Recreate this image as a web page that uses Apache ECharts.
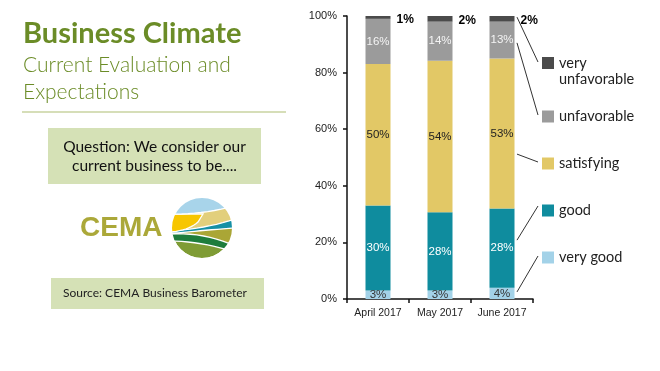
<!DOCTYPE html>
<html>
<head>
<meta charset="utf-8">
<script src="https://cdn.jsdelivr.net/npm/echarts@6/dist/echarts.min.js"></script>
<style>html,body{margin:0;padding:0;background:#fff}#c{width:660px;height:371px}</style>
</head>
<body>
<div id="c"></div>
<script>
// ---- data ----
const categories = ['April 2017', 'May 2017', 'June 2017'];
const seriesNames = ['very good', 'good', 'satisfying', 'unfavorable', 'very unfavorable'];
const veryGood = [3, 3, 4];
const good = [30, 28, 28];
const satisfying = [50, 54, 53];
const unfavorable = [16, 14, 13];
const veryUnfavorable = [1, 2, 2];
const yTicks = [0, 20, 40, 60, 80, 100];
const leaderAnchors = [99.6, 90.5, 51.2, 20.8, 2.5]; // % on June bar, top to bottom
// ---- styles ----
const colors = ['#a3d2e8', '#0f8c9e', '#e2c866', '#9b9b9b', '#4b4b4b'];
const labelColors = ['#333', '#fff', '#222', '#f4f4f4', '#000'];
const raw = [veryGood, good, satisfying, unfavorable, veryUnfavorable];
const totals = categories.map((c, i) => raw.reduce((s, a) => s + a[i], 0));

const chart = echarts.init(document.getElementById('c'), null, {renderer: 'canvas'});
const series = raw.map((arr, k) => ({
  name: seriesNames[k],
  type: 'bar',
  stack: 'all',
  barWidth: 25,
  itemStyle: {color: colors[k]},
  data: arr.map((v, i) => v / totals[i] * 100),
  label: {
    show: true,
    position: k === 4 ? 'right' : 'inside',
    distance: 6,
    color: labelColors[k],
    fontFamily: 'Liberation Sans',
    fontSize: k === 4 ? 12 : 11.5,
    fontWeight: k === 4 ? 'bold' : 'normal',
    offset: k === 4 ? [0, 2] : [0, 0],
    formatter: p => arr[p.dataIndex] + '%'
  }
}));

// decorative logo helpers (quadratic curve sampled to polygon)
function quad(p0, c, p1) {
  const pts = [];
  for (let t = 0; t <= 1.0001; t += 0.1) {
    const a = (1 - t) * (1 - t), b = 2 * (1 - t) * t, d = t * t;
    pts.push([a * p0[0] + b * c[0] + d * p1[0], a * p0[1] + b * c[1] + d * p1[1]]);
  }
  return pts;
}
function region(pts, color) {
  return {type: 'polygon', shape: {points: pts}, style: {fill: color, stroke: '#fff', lineWidth: 1.3}, silent: true};
}
const logoCx = 202, logoCy = 228, logoR = 30;
const L = 169, R = 235, T = 196;
const graphics = [
  {type: 'text', x: 23, y: 19, style: {text: 'Business Climate', font: 'bold 29px Lato', fill: '#6b8c27'}},
  {type: 'text', x: 23, y: 52, style: {text: 'Current Evaluation and\nExpectations', fontFamily: 'Lato', fontWeight: 300, fontSize: 21, lineHeight: 27, fill: '#6b8c27'}},
  {type: 'line', shape: {x1: 22, y1: 112, x2: 286, y2: 112}, style: {stroke: '#c8d3a0', lineWidth: 1.5}},
  // logo
  {type: 'circle', shape: {cx: logoCx, cy: logoCy, r: logoR}, style: {fill: '#7f9c35'}},
  region(quad([L, 241], [200, 241], [R, 252]).concat([[R, T], [L, T]]), '#1e7d3c'),
  region(quad([L, 234], [205, 232], [R, 246]).concat([[R, T], [L, T]]), '#aaa636'),
  region(quad([178, 233], [205, 230], [R, 228]).concat([[R, T], [L, T], [L, 233]]), '#1590a5'),
  region(quad([L, 231], [205, 229], [R, 219]).concat([[R, T], [L, T]]), '#e2cf7c'),
  region(quad([L, 232], [188, 231], [198, 222]).concat([[203, 214], [L, 214]]), '#f7c600'),
  region(quad([L, 214], [200, 215], [R, 206]).concat([[R, T], [L, T]]), '#a8d4ea'),
  {type: 'circle', shape: {cx: logoCx, cy: logoCy, r: logoR + 9}, style: {fill: 'none', stroke: '#fff', lineWidth: 18}},
  {type: 'text', x: 80, y: 214, style: {text: 'CEMA', font: 'bold 28px "Liberation Sans"', fill: '#aba839'}},
  // boxes
  {type: 'rect', shape: {x: 48, y: 128, width: 213, height: 56}, style: {fill: '#d5e1b6'}},
  {type: 'text', x: 154.5, y: 156, style: {text: 'Question: We consider our\ncurrent business to be....', fontFamily: 'Lato', fontSize: 15.5, lineHeight: 19, fill: '#111', align: 'center', verticalAlign: 'middle'}},
  {type: 'rect', shape: {x: 51, y: 278, width: 213, height: 31}, style: {fill: '#d5e1b6'}},
  {type: 'text', x: 63, y: 287, style: {text: 'Source: CEMA Business Barometer', fontFamily: 'Lato', fontSize: 12, fill: '#222'}}
];

chart.setOption({
  animation: false,
  backgroundColor: '#fff',
  grid: {left: 347, right: 127, top: 16, bottom: 72, containLabel: false},
  xAxis: {
    type: 'category', data: categories,
    axisLine: {lineStyle: {color: '#111', width: 1.5}},
    axisTick: {show: true, length: 4, lineStyle: {color: '#111', width: 1.5}},
    axisLabel: {color: '#222', fontFamily: 'Liberation Sans', fontSize: 10.5, margin: 9, interval: 0, hideOverlap: false}
  },
  yAxis: {
    type: 'value', min: yTicks[0], max: yTicks[yTicks.length - 1], interval: yTicks[1] - yTicks[0],
    axisLine: {show: true, lineStyle: {color: '#111', width: 1.5}},
    axisTick: {show: true, length: 4, lineStyle: {color: '#111', width: 1.5}},
    splitLine: {show: false},
    axisLabel: {color: '#222', fontFamily: 'Liberation Sans', fontSize: 11, margin: 10, formatter: '{value}%'}
  },
  legend: {
    orient: 'vertical', left: 542, top: 39, padding: 0, itemWidth: 12, itemHeight: 12, itemGap: 12,
    icon: 'rect',
    data: [
      {name: 'very unfavorable', textStyle: {lineHeight: 16}},
      'unfavorable', 'satisfying', 'good', 'very good'
    ],
    formatter: n => n === 'very unfavorable' ? '\nvery\nunfavorable' : n,
    textStyle: {fontFamily: 'Lato', fontSize: 14.5, lineHeight: 35, color: '#222'}
  },
  series: series,
  graphic: graphics
});

// leader lines from June bar to legend
const legendEndY = [62, 115, 162, 206, 256];
const lines = leaderAnchors.map((pct, i) => {
  const p = chart.convertToPixel({xAxisIndex: 0, yAxisIndex: 0}, [categories[2], pct]);
  return {type: 'line', shape: {x1: p[0] + 15, y1: p[1], x2: 538, y2: legendEndY[i]}, style: {stroke: '#333', lineWidth: 1}, silent: true};
});
chart.setOption({graphic: graphics.concat(lines)});
</script>
</body>
</html>
